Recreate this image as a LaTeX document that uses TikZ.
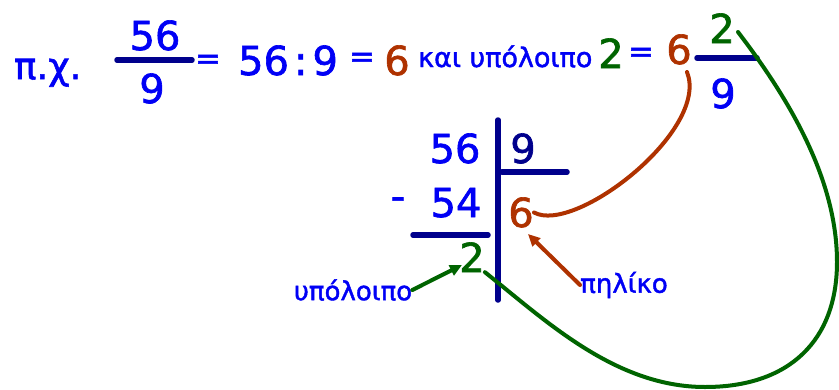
\documentclass[tikz,border=0pt]{standalone}
\usepackage{fontspec}
\setmainfont{DejaVu Sans}
\newfontfamily\roundfont{DejaVu Sans}[FakeBold=1.6]
\usetikzlibrary{arrows.meta, positioning}

\definecolor{numblue}{RGB}{0,0,245}
\definecolor{barblue}{RGB}{0,0,140}
\definecolor{quotbrown}{RGB}{175,50,0}
\definecolor{remgreen}{RGB}{0,100,0}

\begin{document}
\begin{tikzpicture}[
    x=1pt, y=-1pt,
    big/.style={inner sep=0pt, text=numblue, font=\roundfont\fontsize{40}{40}\selectfont},
    eqsign/.style={big, font=\roundfont\fontsize{31}{31}\selectfont},
    word/.style={inner sep=0pt, text=numblue, font=\roundfont\fontsize{26}{26}\selectfont},
    bar/.style={draw=barblue, line width=5.5pt, line cap=round},
    link/.style={line width=4pt, line cap=round},
    >={Triangle[length=12pt, width=11pt]}
]
    \useasboundingbox (0,0) rectangle (839,389);

    % example line
    \node[word, anchor=base west, font=\roundfont\fontsize{37}{37}\selectfont] (px) at (14,79) {π.χ.};
    \node[big, anchor=base] (num) at (155,50) {56};
    \node[big, anchor=base] (den) at (152,103) {9};
    \node[eqsign] (eq1) at (208,62) {=};
    \node[big, anchor=base] (div) at (288,75) {56\kern5pt:\kern5pt9};
    \node[eqsign] (eq2) at (362,60) {=};
    \node[big, anchor=base, text=quotbrown] (q1) at (397,75) {6};
    \node[word, anchor=base west, font=\roundfont\fontsize{27}{27}\selectfont] (kai) at (418,67) {και υπόλοιπο};
    \node[big, anchor=base, text=remgreen] (r1) at (611,68) {2};
    \node[eqsign] (eq3) at (641,55) {=};
    \node[big, anchor=base, text=quotbrown] (q2) at (679,64) {6};
    \node[big, anchor=base, text=remgreen] (fnum) at (722,43) {2};
    \node[big, anchor=base] (fden) at (723,108) {9};

    % fraction bars
    \coordinate (b1l) at (117,60);
    \coordinate (b1r) at (192,60);
    \coordinate (b2l) at (697,58);
    \coordinate (b2r) at (757,58);
    \draw[bar] (b1l) -- (b1r);
    \draw[bar] (b2l) -- (b2r);

    % long division
    \node[big, anchor=base] (dvd) at (455,163) {56};
    \node[big, anchor=base, text=barblue] (dvs) at (523,163) {9};
    \node[big, anchor=base] (minus) at (398,210) {-};
    \node[big, anchor=base] (sub) at (456,217) {54};
    \node[big, anchor=base, text=quotbrown] (quot) at (521,227) {6};
    \node[big, anchor=base, text=remgreen] (rem) at (472,272) {2};

    \coordinate (vtop) at (498,120);
    \coordinate (vbot) at (498,300);
    \coordinate (hl) at (502,172);
    \coordinate (hr) at (567,172);
    \coordinate (sl) at (413,235);
    \coordinate (sr) at (488,235);
    \draw[bar] (vtop) -- (vbot);
    \draw[bar] (hl) -- (hr);
    \draw[bar] (sl) -- (sr);

    % labels
    \node[word] (lblrem) at (353,290) {υπόλοιπο};
    \node[word] (lblquot) at (624,285) {πηλίκο};
    \coordinate (remtip) at (462,265);
    \coordinate (quottip) at (528,234);
    \draw[->, link, remgreen] (lblrem.east) -- (remtip);
    \draw[->, link, quotbrown] (lblquot.west) -- (quottip);

    % links back to the mixed number
    \coordinate (q2end) at (687,72);
    \coordinate (fend) at (738,32);
    \draw[link, quotbrown] (quot.east) .. controls (575,235) and (710,130) .. (q2end);
    \draw[link, remgreen] (rem.south east) .. controls (545,320) and (615,387) .. (705,387)
        .. controls (790,387) and (837,340) .. (837,262)
        .. controls (837,180) and (790,100) .. (fend);
\end{tikzpicture}
\end{document}
